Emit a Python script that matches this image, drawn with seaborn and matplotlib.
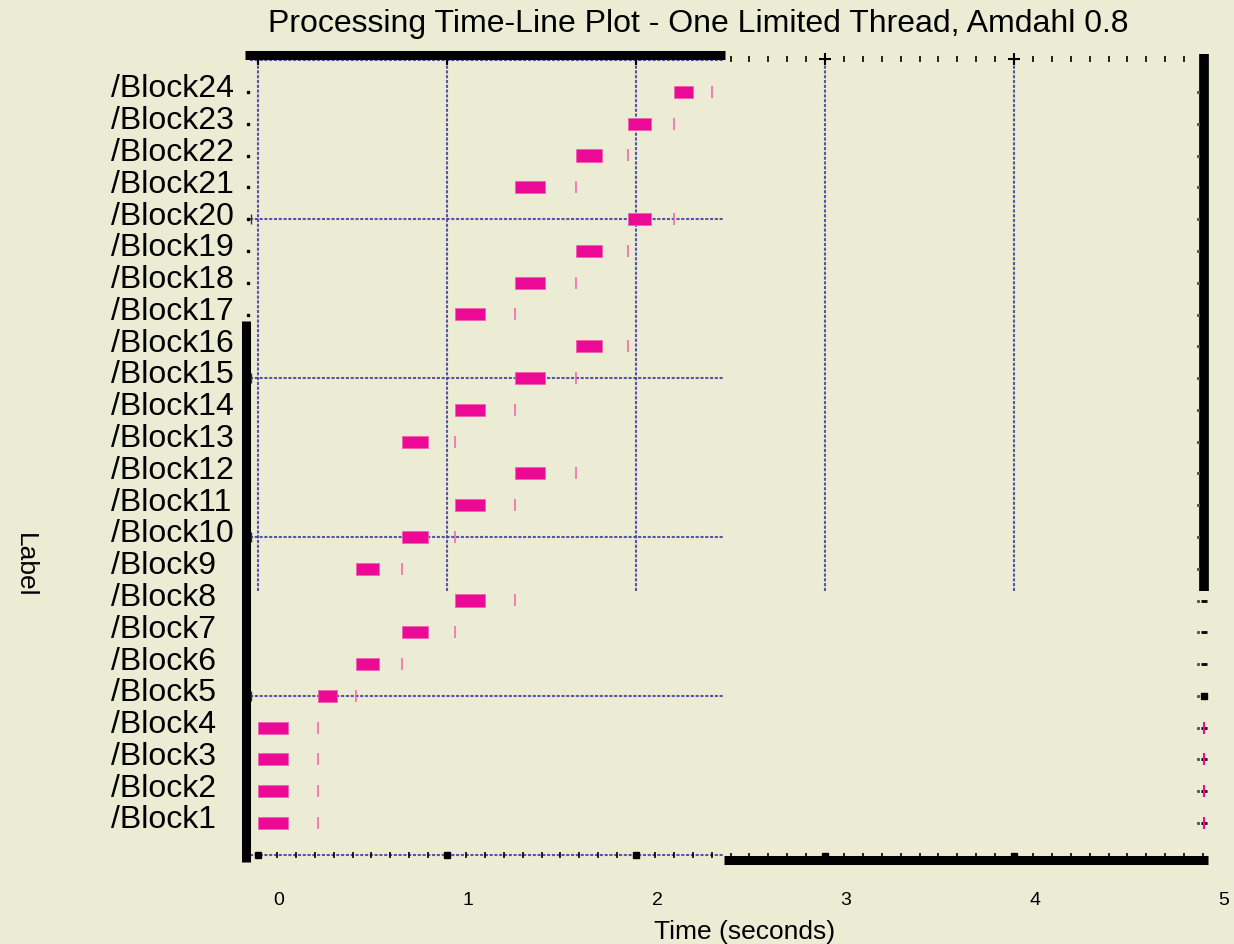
import numpy as np
import pandas as pd
import matplotlib
matplotlib.use("Agg")
import matplotlib.pyplot as plt
import matplotlib.transforms as mtransforms
import seaborn as sns

# ---------------- data ----------------
blocks = [f"/Block{i}" for i in range(1, 25)]
block_pos = list(range(1, 25))
proc_start = [0.00, 0.00, 0.00, 0.00, 0.32, 0.52, 0.76, 1.04,
              0.52, 0.76, 1.04, 1.36, 0.76, 1.04, 1.36, 1.68,
              1.04, 1.36, 1.68, 1.96, 1.36, 1.68, 1.96, 2.20]
proc_end = [0.16, 0.16, 0.16, 0.16, 0.42, 0.64, 0.90, 1.20,
            0.64, 0.90, 1.20, 1.52, 0.90, 1.20, 1.52, 1.82,
            1.20, 1.52, 1.82, 2.08, 1.52, 1.82, 2.08, 2.30]
finish = [0.32, 0.32, 0.32, 0.32, 0.52, 0.76, 1.04, 1.36,
          0.76, 1.04, 1.36, 1.68, 1.04, 1.36, 1.68, 1.96,
          1.36, 1.68, 1.96, 2.20, 1.68, 1.96, 2.20, 2.40]
x_ticks = [0, 1, 2, 3, 4, 5]
x_tick_labels = ["0", "1", "2", "3", "4", "5"]
h_grid_rows = [5, 10, 15, 20]

df = pd.DataFrame({"label": blocks, "pos": block_pos, "start": proc_start,
                   "end": proc_end, "finish": finish})
df["dur"] = df["end"] - df["start"]

# ---------------- style ----------------
BG = "#ECECD4"
PINK = "#EC0996"
PINK_LIGHT = "#F060B0"
GRID = "#3A3AA6"

sns.set_theme(style="white", rc={"figure.facecolor": BG, "axes.facecolor": BG,
                                 "savefig.facecolor": BG, "text.color": "black",
                                 "axes.labelcolor": "black", "xtick.color": "black",
                                 "ytick.color": "black"})
plt.rcParams["font.family"] = ["Liberation Sans", "DejaVu Sans"]

W, H = 1234, 945
fig = plt.figure(figsize=(W / 100, H / 100), dpi=100)
L, R, T, B = 245, 1203, 57, 860
ax = fig.add_axes([L / W, 1 - B / H, (R - L) / W, (B - T) / H])
ax.set_xlim(-0.0688, 5.0)
ax.set_ylim(-0.133, 25.13)
for s in ax.spines.values():
    s.set_visible(False)

def fx(px):
    return (px - L) / (R - L)

def fy(py):
    return (B - py) / (B - T)

# clipped grid region limits (in data units)
x_clip = 2.466
y_clip = 8.3
grid_kw = dict(color=GRID, lw=1.5, ls=(0, (1.5, 0.8)), alpha=0.85, zorder=1)

# vertical grid lines
for xv in x_ticks[:-1]:
    ax.plot([xv, xv], [y_clip, 25.0], **grid_kw)
# horizontal grid lines
for yv in h_grid_rows:
    ax.plot([-0.04, x_clip], [yv, yv], **grid_kw)
    ax.plot([-0.035], [yv], marker="|", ms=7, color="#333333", mew=1, zorder=2)
# bottom / top dotted axis lines
ax.plot([-0.04, x_clip], [0, 0], **grid_kw)
ax.plot([-0.04, x_clip], [25.0, 25.0], **grid_kw)

# small axis ticks
minor = np.round(np.arange(0, 5.001, 0.1), 2)
lo = minor[minor < x_clip]
hi = minor[minor >= x_clip]
ax.plot(lo, np.zeros_like(lo), ls="none", marker="|", ms=5, color="black", mew=1.2, zorder=3)
ax.plot(hi, np.full_like(hi, 25.05), ls="none", marker="|", ms=4, color="black", mew=1.2, zorder=3)
ax.plot(hi, np.full_like(hi, -0.05), ls="none", marker="|", ms=5, color="black", mew=1.2, zorder=3, clip_on=False)
for xv in x_ticks[:-1]:
    yb = 0 if xv < x_clip else -0.05
    ax.plot([xv], [yb], marker="s", ms=4, color="black", zorder=3, clip_on=False)
    ax.plot([xv], [25.05], marker="+", ms=8, color="black", mew=1.5, zorder=3, clip_on=False)

# thick black frame fragments
kw = dict(transform=ax.transAxes, color="black", solid_capstyle="butt", clip_on=False, zorder=4)
ax.plot([fx(245), fx(725)], [fy(56), fy(56)], lw=6.5, **kw)
ax.plot([fx(724), fx(1208)], [fy(861), fy(861)], lw=6.5, **kw)
ax.plot([fx(245.5), fx(245.5)], [fy(322), fy(863)], lw=6.5, **kw)
ax.plot([fx(1204), fx(1204)], [fy(55), fy(592)], lw=7, **kw)

# side tick marks
ax.plot(np.full(24, fx(247.5)), [fy(824 - (p - 1) * 31.78) for p in block_pos],
        transform=ax.transAxes, ls="none", marker="s", ms=2, color="black", clip_on=False, zorder=5)
low_rows = [p for p in block_pos if p <= 8]
ax.plot(np.full(len(low_rows), fx(1204)), [fy(824 - (p - 1) * 31.78) for p in low_rows],
        transform=ax.transAxes, ls="none", marker="_", ms=5, mew=2, color="black", clip_on=False, zorder=5)
ax.plot(np.full(24, fx(1198)), [fy(824 - (p - 1) * 31.78) for p in block_pos],
        transform=ax.transAxes, ls="none", marker="s", ms=1.2, color="#555555", clip_on=False, zorder=5)
ax.plot([fx(1204)], [fy(697)], transform=ax.transAxes, marker="s", ms=5, color="black", clip_on=False, zorder=5)
ax.plot(np.full(4, fx(1204)), [fy(824 - (p - 1) * 31.78) for p in [1, 2, 3, 4]],
        transform=ax.transAxes, ls="none", marker="|", ms=9, mew=1.5, color=PINK, clip_on=False, zorder=6)

# bars
ax.barh(df["pos"], df["dur"], left=df["start"], height=0.38, color=PINK,
        edgecolor=PINK_LIGHT, linewidth=0.6, zorder=5)
# finish ticks
sns.scatterplot(data=df, x="finish", y="pos", marker="|", s=75, color=PINK_LIGHT,
                linewidth=1.1, ax=ax, zorder=6, legend=False)

# ticks & labels
ax.set_yticks(block_pos)
ax.set_yticklabels(blocks, fontsize=23, color="black")
ax.set_xticks(x_ticks)
ax.set_xticklabels(x_tick_labels, fontsize=14, color="black")
ax.tick_params(axis="y", length=0, pad=96.5)
ax.tick_params(axis="x", length=0, pad=23)
ax.set_xlabel("")
ax.set_ylabel("")
off_x = mtransforms.ScaledTranslation(21 / 100, 0, fig.dpi_scale_trans)
for lab in ax.get_xticklabels():
    lab.set_transform(lab.get_transform() + off_x)
off_y = mtransforms.ScaledTranslation(0, 7 / 100, fig.dpi_scale_trans)
for lab in ax.get_yticklabels():
    lab.set_horizontalalignment("left")
    lab.set_transform(lab.get_transform() + off_y)

fig.text(698 / W, 1 - 24 / H, "Processing Time-Line Plot - One Limited Thread, Amdahl 0.8",
         ha="center", va="center", fontsize=23)
fig.text(745 / W, 1 - 932 / H, "Time (seconds)", ha="center", va="center", fontsize=19)
fig.text(25 / W, 1 - 565 / H, "Label", ha="center", va="center", rotation=270, fontsize=19)

fig.savefig("out.png", dpi=100, facecolor=BG)
